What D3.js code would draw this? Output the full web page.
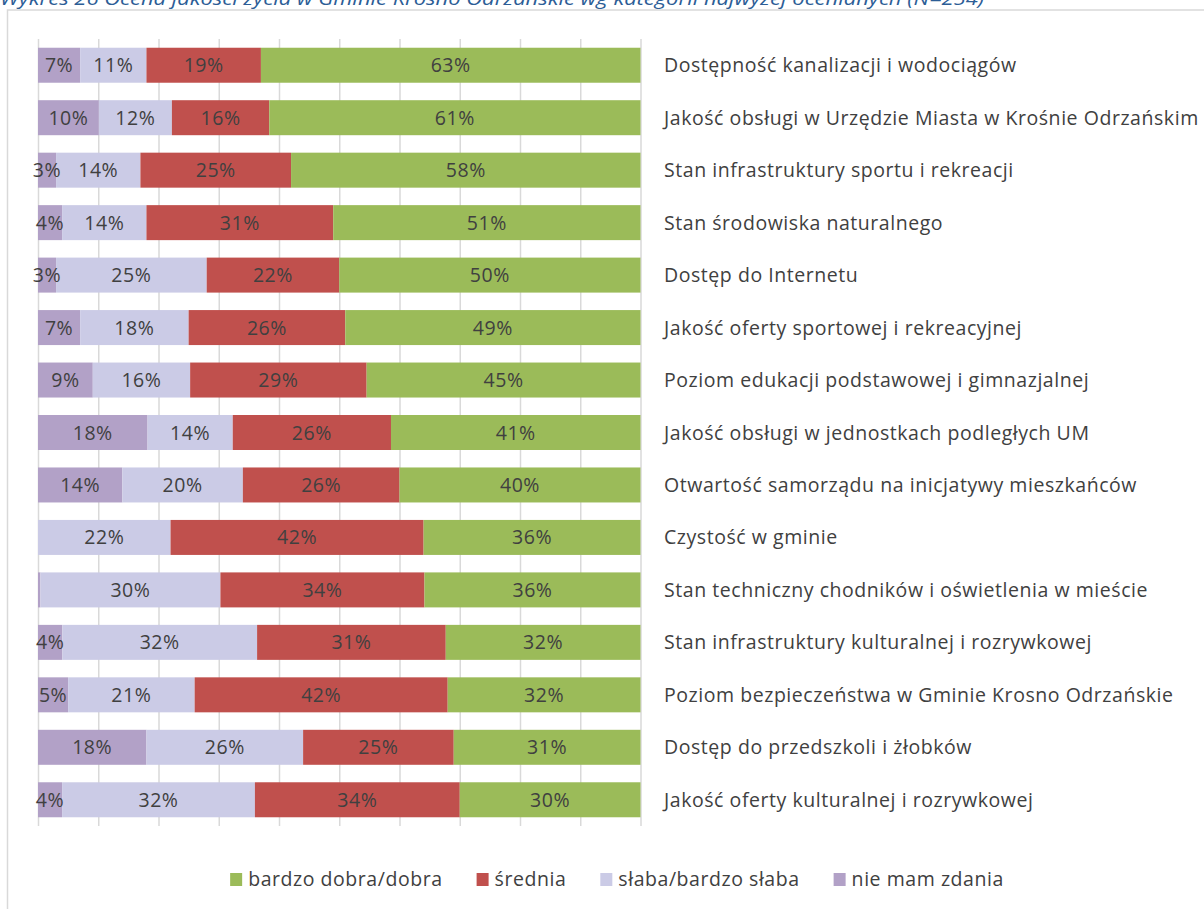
<!DOCTYPE html>
<html><head><meta charset="utf-8">
<script src="https://cdn.jsdelivr.net/npm/d3@7"></script>
<style>
html,body{margin:0;padding:0;background:#fff;overflow:hidden}
svg{display:block}
</style></head>
<body>
<svg id="chart" width="1204" height="909"></svg>
<script>
const title = "Wykres 26 Ocena jakości życia w Gminie Krosno Odrzańskie wg kategorii najwyżej ocenianych (N=254)";
const categories = [
  "Dostępność kanalizacji i wodociągów",
  "Jakość obsługi w Urzędzie Miasta w Krośnie Odrzańskim",
  "Stan infrastruktury sportu i rekreacji",
  "Stan środowiska naturalnego",
  "Dostęp do Internetu",
  "Jakość oferty sportowej i rekreacyjnej",
  "Poziom edukacji podstawowej i gimnazjalnej",
  "Jakość obsługi w jednostkach podległych UM",
  "Otwartość samorządu na inicjatywy mieszkańców",
  "Czystość w gminie",
  "Stan techniczny chodników i oświetlenia w mieście",
  "Stan infrastruktury kulturalnej i rozrywkowej",
  "Poziom bezpieczeństwa w Gminie Krosno Odrzańskie",
  "Dostęp do przedszkoli i żłobków",
  "Jakość oferty kulturalnej i rozrywkowej"
];
const seriesNames = ["nie mam zdania", "słaba/bardzo słaba", "średnia", "bardzo dobra/dobra"];
const nieMamZdania = [7, 10, 3, 4, 3, 7, 9, 18, 14, 0, 0.4, 4, 5, 18, 4];
const slaba        = [11, 12, 14, 14, 25, 18, 16, 14, 20, 22, 30, 32, 21, 26, 32];
const srednia      = [19, 16, 25, 31, 22, 26, 29, 26, 26, 42, 34, 31, 42, 25, 34];
const dobra        = [63, 61, 58, 51, 50, 49, 45, 41, 40, 36, 36, 32, 32, 31, 30];
const colors = ["#b2a1c7", "#cbcbe6", "#c0504d", "#9bbb59"];
const legendOrder = ["bardzo dobra/dobra", "średnia", "słaba/bardzo słaba", "nie mam zdania"];
const ticks = d3.range(0, 11).map(i => i / 10);

const svg = d3.select("#chart");
const font = "'Open Sans', sans-serif";
const textColor = "#404040";
const fs = 19.5, ls = 0.55;

// frame
svg.append("rect").attr("x", 7.5).attr("y", 10).attr("width", 1220).attr("height", 920)
  .attr("fill", "#fff").attr("stroke", "#d9d9d9").attr("stroke-width", 1.5);

// title
svg.append("text").attr("x", 0).attr("y", 5)
  .attr("font-family", font).attr("font-style", "italic").attr("font-size", 18)
  .attr("fill", "#2c5d96").attr("textLength", 984).attr("lengthAdjust", "spacingAndGlyphs")
  .text(title);

const rows = categories.map((c, i) => ({
  cat: c,
  [seriesNames[0]]: nieMamZdania[i],
  [seriesNames[1]]: slaba[i],
  [seriesNames[2]]: srednia[i],
  [seriesNames[3]]: dobra[i]
}));

const x = d3.scaleLinear().domain([0, 1]).range([38, 640.5]);
const y = d3.scaleBand().domain(categories).range([39, 826]).paddingInner(0.333).paddingOuter(0.1665);
const color = d3.scaleOrdinal().domain(seriesNames).range(colors);

// gridlines via axis
const gAxis = svg.append("g").attr("transform", "translate(0,39)")
  .call(d3.axisBottom(x).tickValues(ticks).tickSize(787).tickFormat(""));
gAxis.select(".domain").remove();
gAxis.selectAll("line").attr("stroke", "#d9d9d9").attr("stroke-width", 1.5);

const stacked = d3.stack().keys(seriesNames).offset(d3.stackOffsetExpand)(rows);

const layers = svg.append("g").selectAll("g").data(stacked).join("g")
  .attr("fill", d => color(d.key));
layers.selectAll("rect").data(d => d).join("rect")
  .attr("x", d => x(d[0])).attr("width", d => x(d[1]) - x(d[0]))
  .attr("y", d => y(d.data.cat)).attr("height", y.bandwidth());

// value labels
const lbl = svg.append("g");
stacked.forEach(layer => {
  layer.forEach(d => {
    const v = d.data[layer.key];
    if (v < 1) return;
    lbl.append("text")
      .attr("x", (x(d[0]) + x(d[1])) / 2)
      .attr("y", y(d.data.cat) + y.bandwidth() / 2)
      .attr("dy", "0.36em").attr("text-anchor", "middle")
      .attr("font-family", font).attr("font-size", fs).attr("letter-spacing", ls).attr("fill", textColor)
      .text(Math.round(v) + "%");
  });
});

// category labels
svg.append("g").selectAll("text").data(categories).join("text")
  .attr("x", 664).attr("y", d => y(d) + y.bandwidth() / 2).attr("dy", "0.36em")
  .attr("font-family", font).attr("font-size", fs).attr("letter-spacing", ls).attr("fill", textColor)
  .text(d => d);

// legend
const legend = svg.append("g");
let lx = 0;
legendOrder.forEach(name => {
  const g = legend.append("g").attr("transform", `translate(${lx},0)`);
  g.append("rect").attr("x", 0).attr("y", -6).attr("width", 12).attr("height", 13).attr("fill", color(name));
  const t = g.append("text").attr("x", 18).attr("y", 0).attr("dy", "0.36em")
    .attr("font-family", font).attr("font-size", fs).attr("letter-spacing", ls).attr("fill", textColor).text(name);
  lx += 18 + t.node().getComputedTextLength() + 34;
});
const totalW = lx - 34;
legend.attr("transform", `translate(${617 - totalW / 2},879)`);
</script>
</body></html>
